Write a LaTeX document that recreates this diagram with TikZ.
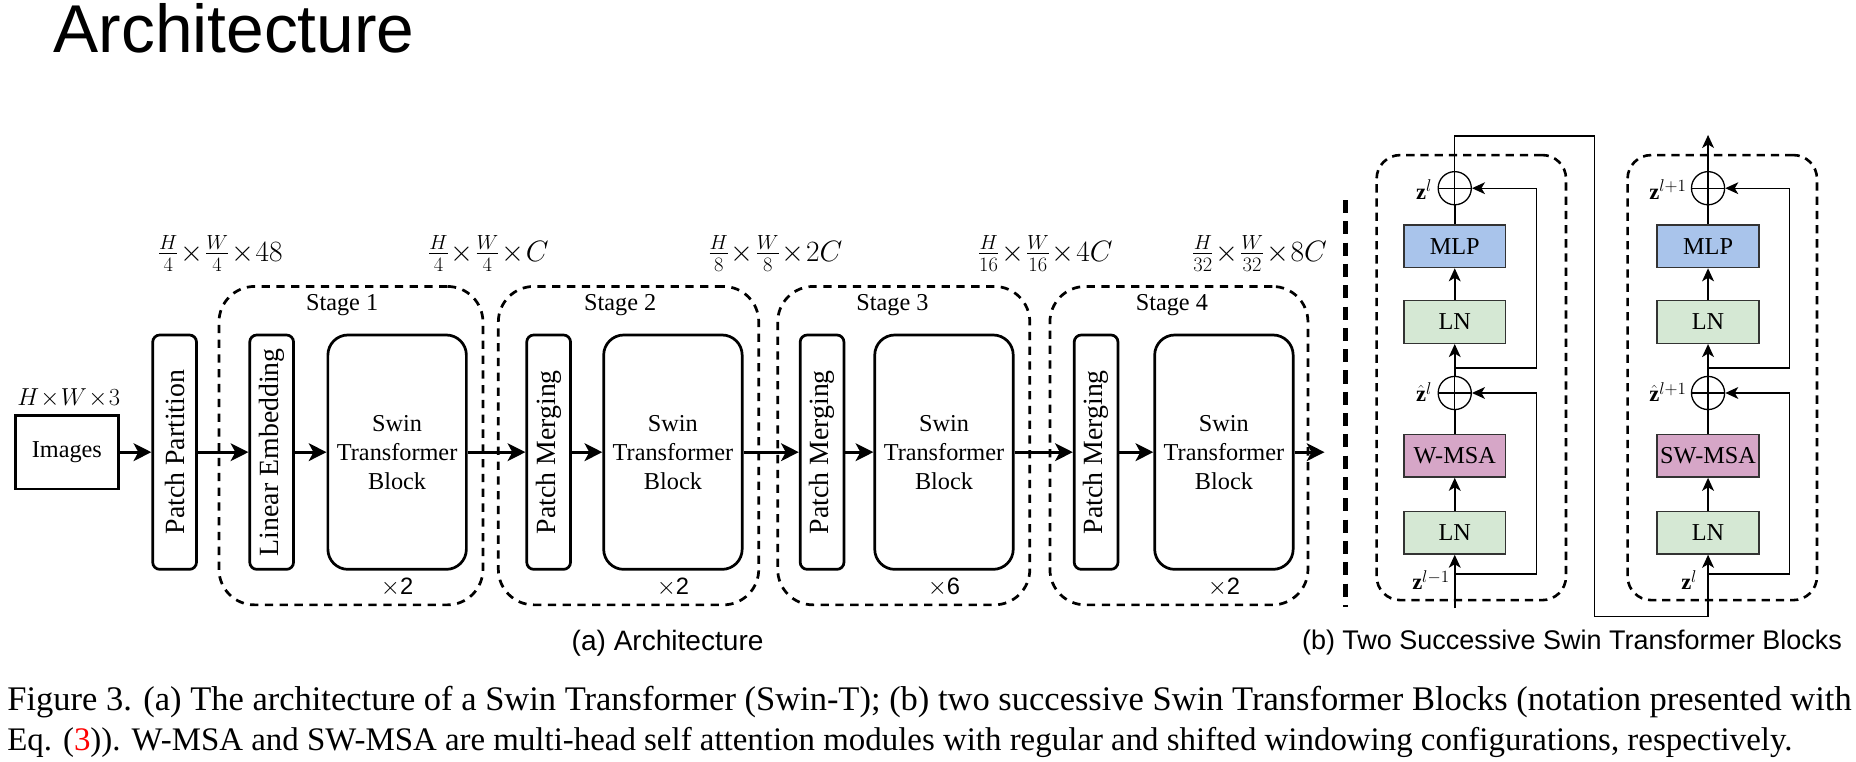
\documentclass[tikz,border=0pt]{standalone}
\usepackage{fontspec}
\setmainfont{Liberation Serif}
\newfontfamily\sanslab{Liberation Sans}
\usetikzlibrary{arrows.meta}
\definecolor{mlpblue}{RGB}{169,196,235}
\definecolor{lngreen}{RGB}{213,232,212}
\definecolor{msapink}{RGB}{214,166,199}
\newcommand{\tx}{\mkern1mu{\times}\mkern1mu}
\begin{document}
\begin{tikzpicture}[x=1pt,y=-1pt,
  fs/.style={font=\fontsize{20.5}{24.5}\selectfont, inner sep=0pt},
  lab/.style={fs},
  rotlab/.style={font=\fontsize{23.5}{26}\selectfont, inner sep=0pt, rotate=90},
  mathlab/.style={font=\fontsize{23}{26}\selectfont, inner sep=0pt},
  blk/.style={draw, line width=2.3pt, rounded corners=6pt, minimum width=37pt, minimum height=198pt, inner sep=0pt},
  swin/.style={draw, line width=2.3pt, rounded corners=17pt, minimum width=117pt, minimum height=198pt, align=center, fs},
  stagebox/.style={draw, line width=2.3pt, dash pattern=on 7pt off 5.5pt, rounded corners=30pt, inner sep=0pt},
  bigarr/.style={line width=2.3pt, -{Stealth[length=15pt,width=15pt,inset=4pt]}},
  rbox/.style={draw=black!80, line width=1.3pt, minimum width=86pt, minimum height=36pt, inner sep=0pt, fs},
  plus/.style={circle, draw, line width=1.1pt, minimum size=28pt, inner sep=0pt,
    path picture={\draw[line width=1.1pt] (path picture bounding box.north) -- (path picture bounding box.south) (path picture bounding box.west) -- (path picture bounding box.east);}},
  barr/.style={line width=1.5pt, -{Stealth[length=11pt,width=10pt,inset=3pt]}},
  bline/.style={line width=1.5pt},
  res/.style={line width=1.1pt},
  resarr/.style={line width=1.1pt, -{Stealth[length=11pt,width=10pt,inset=3pt]}},
  blkdash/.style={draw, line width=2.2pt, dash pattern=on 7pt off 5pt, rounded corners=20pt, inner sep=0pt},
  zlab/.style={font=\fontsize{19}{22}\selectfont, inner sep=0pt},
  timeslab/.style={font=\fontsize{20}{22}\selectfont\sanslab, inner sep=0pt}
]
\useasboundingbox (0,0) rectangle (1568,643);

% title
\node[anchor=base west, inner sep=0pt] (title) at (45,44) {\resizebox{305pt}{!}{\fontsize{46}{50}\selectfont\sanslab Architecture}};

% ---------- (a) architecture ----------
\node[stagebox, minimum width=223pt, minimum height=269pt] (st1) at (296.5,376.5) {};
\node[stagebox, minimum width=220pt, minimum height=269pt] (st2) at (531,376.5) {};
\node[stagebox, minimum width=213pt, minimum height=269pt] (st3) at (763.5,376.5) {};
\node[stagebox, minimum width=218pt, minimum height=269pt] (st4) at (996,376.5) {};
\node[lab] (st1t) at (289,258) {Stage 1};
\node[lab] (st2t) at (524,258) {Stage 2};
\node[lab] (st3t) at (754,258) {Stage 3};
\node[lab] (st4t) at (990,258) {Stage 4};

\node[font=\fontsize{21}{24}\selectfont, inner sep=0pt] (hw) at (58,336) {$H\mkern1mu{\times}\mkern1mu W\mkern1mu{\times}\mkern1mu 3$};
\node[draw, line width=2.3pt, minimum width=87pt, minimum height=62pt, fs] (img) at (56.5,382) {Images};

\node[blk] (pp) at (147.5,382) {};
\node[rotlab] (ppt) at (pp.center) {Patch Partition};
\node[blk] (le) at (229.5,382) {};
\node[rotlab] (let) at (le.center) {Linear Embedding};
\node[swin] (sb1) at (335.5,382) {Swin\\Transformer\\Block};
\node[blk] (pm2) at (463.5,382) {};
\node[rotlab] (pm2t) at (pm2.center) {Patch Merging};
\node[swin] (sb2) at (568.5,382) {Swin\\Transformer\\Block};
\node[blk] (pm3) at (694.5,382) {};
\node[rotlab] (pm3t) at (pm3.center) {Patch Merging};
\node[swin] (sb3) at (797.5,382) {Swin\\Transformer\\Block};
\node[blk] (pm4) at (926,382) {};
\node[rotlab] (pm4t) at (pm4.center) {Patch Merging};
\node[swin] (sb4) at (1034,382) {Swin\\Transformer\\Block};
\coordinate (aout) at (1119,382);

\draw[bigarr] (img.east) -- (pp.west);
\draw[bigarr] (pp.east) -- (le.west);
\draw[bigarr] (le.east) -- (sb1.west);
\draw[bigarr] (sb1.east) -- (pm2.west);
\draw[bigarr] (pm2.east) -- (sb2.west);
\draw[bigarr] (sb2.east) -- (pm3.west);
\draw[bigarr] (pm3.east) -- (sb3.west);
\draw[bigarr] (sb3.east) -- (pm4.west);
\draw[bigarr] (pm4.east) -- (sb4.west);
\draw[bigarr] (sb4.east) -- (aout);

\node[timeslab] (x1) at (335.5,496) {$\times$2};
\node[timeslab] (x2) at (568.5,496) {$\times$2};
\node[timeslab] (x3) at (797.5,496) {$\times$6};
\node[timeslab] (x4) at (1034,496) {$\times$2};

\node[mathlab] (d0) at (186,214) {$\frac{H}{4}\tx\frac{W}{4}\tx 48$};
\node[mathlab] (d1) at (412.5,214) {$\frac{H}{4}\tx\frac{W}{4}\tx C$};
\node[mathlab] (d2) at (655,214) {$\frac{H}{8}\tx\frac{W}{8}\tx 2C$};
\node[mathlab] (d3) at (883,214) {$\frac{H}{16}\tx\frac{W}{16}\tx 4C$};
\node[mathlab] (d4) at (1064,214) {$\frac{H}{32}\tx\frac{W}{32}\tx 8C$};

\node[inner sep=0pt] (capa) at (564,543) {\resizebox{162pt}{!}{\fontsize{22}{26}\selectfont\sanslab (a) Architecture}};

% separator
\coordinate (sepT) at (1137,169);
\coordinate (sepB) at (1137,513);
\draw[line width=4pt, dash pattern=on 11pt off 7pt] (sepT) -- (sepB);

% ---------- (b) two blocks ----------
\node[blkdash, minimum width=160pt, minimum height=376pt] (bb1) at (1243,319) {};
\node[blkdash, minimum width=160pt, minimum height=376pt] (bb2) at (1455,319) {};

% block 1
\node[rbox, fill=mlpblue] (mlp1) at (1229,208) {MLP};
\node[rbox, fill=lngreen] (lnb1) at (1229,272) {LN};
\node[rbox, fill=msapink] (msa1) at (1229,385) {W-MSA};
\node[rbox, fill=lngreen] (lna1) at (1229,450) {LN};
\node[plus] (p1) at (1229,159) {};
\node[plus] (ph1) at (1229,332) {};
\node[zlab, anchor=east] (z1) at (1210,160) {$\mathbf{z}^{l}$};
\node[zlab, anchor=east] (zh1) at (1210,331) {$\hat{\mathbf{z}}^{l}$};
\node[zlab, anchor=east] (zin1) at (1225,490) {$\mathbf{z}^{l-1}$};

\coordinate (in1) at (1229,514);
\coordinate (br1) at (1229,485);
\coordinate (r1a) at (1298,485);
\coordinate (r1b) at (1298,332);
\coordinate (br2) at (1229,311);
\coordinate (r2a) at (1298,311);
\coordinate (r2b) at (1298,159);
\draw[barr] (in1) -- (lna1.south);
\draw[resarr] (br1) -- (r1a) -- (r1b) -- (ph1.east);
\draw[barr] (lna1.north) -- (msa1.south);
\draw[bline] (msa1.north) -- (ph1.south);
\draw[barr] (ph1.north) -- (lnb1.south);
\draw[resarr] (br2) -- (r2a) -- (r2b) -- (p1.east);
\draw[barr] (lnb1.north) -- (mlp1.south);
\draw[bline] (mlp1.north) -- (p1.south);

% connector between blocks
\coordinate (t1) at (1229,115);
\coordinate (t2) at (1347,115);
\coordinate (t3) at (1347,521);
\coordinate (t4) at (1443,521);
\draw[res] (p1.north) -- (t1) -- (t2) -- (t3) -- (t4);

% block 2
\node[rbox, fill=mlpblue] (mlp2) at (1443,208) {MLP};
\node[rbox, fill=lngreen] (lnb2) at (1443,272) {LN};
\node[rbox, fill=msapink] (msa2) at (1443,385) {SW-MSA};
\node[rbox, fill=lngreen] (lna2) at (1443,450) {LN};
\node[plus] (p2) at (1443,159) {};
\node[plus] (ph2) at (1443,332) {};
\node[zlab, anchor=east] (z2) at (1425,160) {$\mathbf{z}^{l+1}$};
\node[zlab, anchor=east] (zh2) at (1425,331) {$\hat{\mathbf{z}}^{l+1}$};
\node[zlab, anchor=east] (zin2) at (1434,490) {$\mathbf{z}^{l}$};

\coordinate (br3) at (1443,485);
\coordinate (r3a) at (1512,485);
\coordinate (r3b) at (1512,332);
\coordinate (br4) at (1443,311);
\coordinate (r4a) at (1512,311);
\coordinate (r4b) at (1512,159);
\coordinate (out2) at (1443,114);
\draw[barr] (t4) -- (lna2.south);
\draw[resarr] (br3) -- (r3a) -- (r3b) -- (ph2.east);
\draw[barr] (lna2.north) -- (msa2.south);
\draw[bline] (msa2.north) -- (ph2.south);
\draw[barr] (ph2.north) -- (lnb2.south);
\draw[resarr] (br4) -- (r4a) -- (r4b) -- (p2.east);
\draw[barr] (lnb2.north) -- (mlp2.south);
\draw[bline] (mlp2.north) -- (p2.south);
\draw[barr] (p2.north) -- (out2);

\node[inner sep=0pt] (capb) at (1328,543) {\resizebox{456pt}{!}{\fontsize{22}{26}\selectfont\sanslab (b) Two Successive Swin Transformer Blocks}};

% caption
\node[anchor=base west, inner sep=0pt] (cap1) at (6,600) {\resizebox{1558pt}{!}{\fontsize{27.8}{32}\selectfont Figure 3. (a) The architecture of a Swin Transformer (Swin-T); (b) two successive Swin Transformer Blocks (notation presented with}};
\node[anchor=base west, inner sep=0pt] (cap2) at (6,634) {\resizebox{1508pt}{!}{\fontsize{27.8}{32}\selectfont Eq. (\textcolor{red}{3})). W-MSA and SW-MSA are multi-head self attention modules with regular and shifted windowing configurations, respectively.}};
\end{tikzpicture}
\end{document}
